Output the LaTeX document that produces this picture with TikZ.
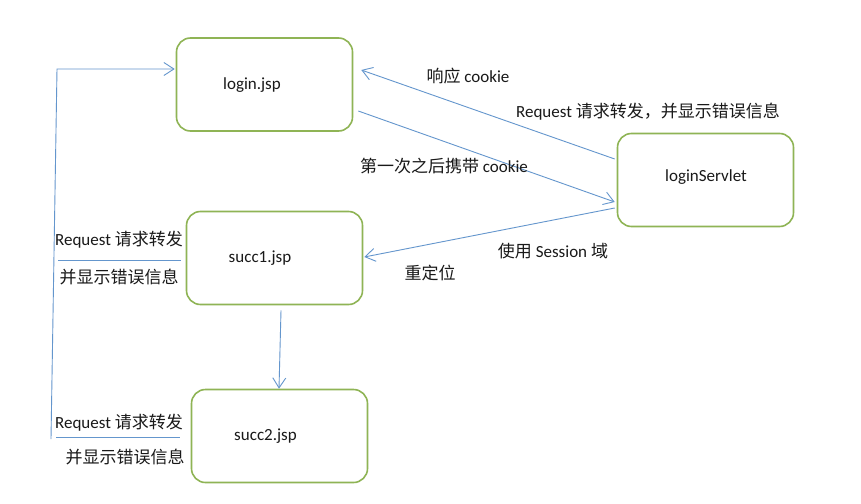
\documentclass[tikz,border=0pt]{standalone}
\usepackage{fontspec}
\setmainfont{Carlito}
\newfontfamily\cjk[Scale=1.0]{Noto Sans CJK SC}
\usetikzlibrary{arrows.meta,calc}
\definecolor{boxgreen}{RGB}{143,180,85}
\definecolor{arrowblue}{RGB}{100,150,205}
\begin{document}
\begin{tikzpicture}[x=1pt,y=-1pt,
  box/.style={draw=boxgreen, line width=1.6pt, rounded corners=14pt, minimum width=176pt, minimum height=93pt, inner sep=0pt},
  lbl/.style={font=\fontsize{17}{20}\selectfont, inner sep=0pt, text=black!90},
  conn/.style={draw=arrowblue, line width=0.9pt, -{Straight Barb[length=10pt,width=13pt]}},
  sepline/.style={draw=arrowblue, line width=0.9pt}]
\useasboundingbox (0,0) rectangle (861,503);
\fill[white] (0,0) rectangle (861,503);

% boxes
\node[box] (login) at (264.5,84.5) {};
\node[box] (succ1) at (274.5,258) {};
\node[box] (succ2) at (279.5,436) {};
\node[box] (servlet) at (705.5,180) {};

% box texts
\node[lbl] (loginT) at (252,85) {login.jsp};
\node[lbl] (succ1T) at (260,258) {succ1.jsp};
\node[lbl] (succ2T) at (265.5,436) {succ2.jsp};
\node[lbl] (servletT) at (706,177) {loginServlet};

% connectors
\draw[conn] ($(servlet.west)+(-2,-21)$) -- ($(login.east)+(8,-14.5)$);
\draw[conn] ($(login.east)+(5,26.5)$) -- ($(servlet.west)+(-2,22)$);
\draw[conn] ($(servlet.west)+(-2,28)$) -- ($(succ1.east)+(1,-1)$);
\draw[conn] ($(succ1.south)+(6.5,5)$) -- ($(succ2.north)+(-0.5,0)$);

\coordinate (lbot) at (51,439);
\coordinate (ltop) at (57,69);
\draw[conn] (lbot) -- (ltop) -- ($(login.west)+(-1,-15.5)$);

\coordinate (s1a) at (58,260);
\coordinate (s1b) at (181,260);
\coordinate (s2a) at (56,437);
\coordinate (s2b) at (180,437);
\draw[sepline] (s1a) -- (s1b);
\draw[sepline] (s2a) -- (s2b);

% connector labels
\node[lbl] (l1) at (468,76) {{\cjk 响应} cookie};
\node[lbl] (l2) at (648,112) {Request {\cjk 请求转发，并显示错误信息}};
\node[lbl] (l3) at (444,166) {{\cjk 第一次之后携带} cookie};
\node[lbl] (l4) at (553,251) {{\cjk 使用} Session {\cjk 域}};
\node[lbl] (l5) at (430,273) {\cjk 重定位};
\node[lbl] (l6) at (119,240) {Request {\cjk 请求转发}};
\node[lbl] (l7) at (119,277) {\cjk 并显示错误信息};
\node[lbl] (l8) at (119,423) {Request {\cjk 请求转发}};
\node[lbl] (l9) at (125,457) {\cjk 并显示错误信息};
\end{tikzpicture}
\end{document}
